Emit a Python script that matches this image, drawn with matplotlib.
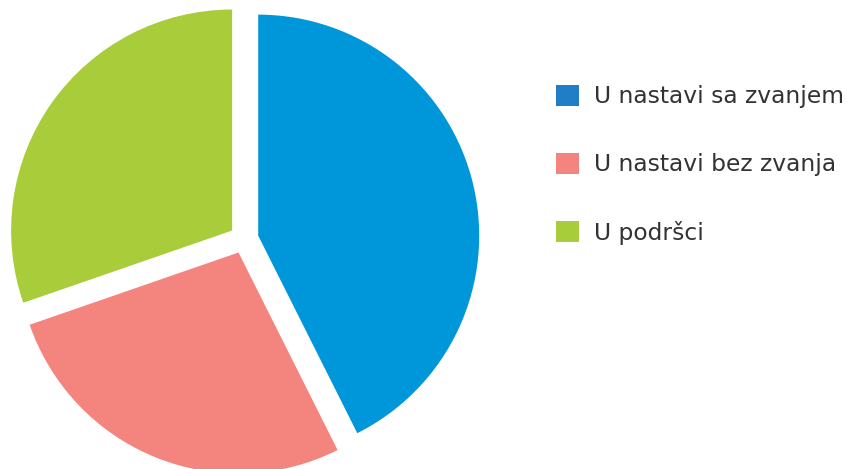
import matplotlib.pyplot as plt
from matplotlib.patches import Patch

labels = ['U nastavi sa zvanjem', 'U nastavi bez zvanja', 'U podršci']
shares = [42.6, 27.1, 30.3]
pie_colors = ['#0096DA', '#F3847E', '#A8CC3A']
legend_colors = ['#1F7EC6', '#F3847E', '#A8CD3A']

fig = plt.figure(figsize=(8.47, 4.69), dpi=100)
ax = fig.add_axes([0, 0, 1, 1])

# pie starts at 12 o'clock and runs clockwise, slices pulled apart
ax.pie(shares, colors=pie_colors, startangle=90, counterclock=False,
       radius=1.0, explode=[0.066] * 3, wedgeprops={'linewidth': 0})

# place the pie: centre at (244, 239) px from top-left, radius 221 px
scale = 221.0
ax.set_aspect('auto')
ax.set_xlim(-244 / scale, (847 - 244) / scale)
ax.set_ylim(239 / scale - 469 / scale, 239 / scale)
ax.axis('off')

handles = [Patch(facecolor=c, edgecolor='none') for c in legend_colors]
leg = fig.legend(handles, labels, loc='upper left',
                 bbox_to_anchor=(556 / 847, 1 - 85 / 469),
                 frameon=False, fontsize=16.8, handlelength=1.0,
                 handleheight=1.0, handletextpad=0.62, labelspacing=1.9,
                 borderpad=0, borderaxespad=0)
for t in leg.get_texts():
    t.set_color('#333333')

fig.savefig('out.png', dpi=100)
